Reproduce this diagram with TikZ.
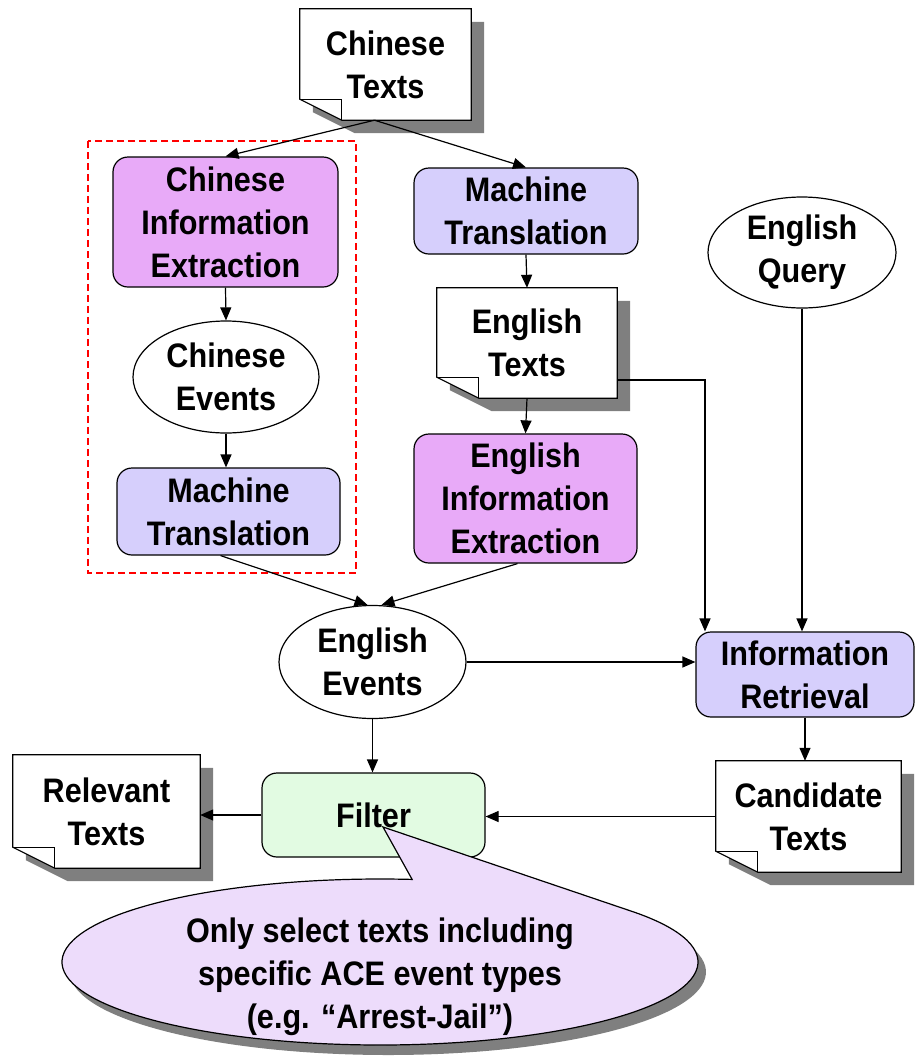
\documentclass[tikz,border=0pt]{standalone}
\usepackage{fontspec}
\setmainfont{Liberation Sans}[FakeStretch=0.9,UprightFont=*-Bold]
\usetikzlibrary{shapes.geometric,arrows.meta,backgrounds}

\definecolor{iepink}{HTML}{E8AAF8}
\definecolor{mtlav}{HTML}{D6CFFC}
\definecolor{filtgreen}{HTML}{E2FBE2}
\definecolor{notelav}{HTML}{EDDCFB}
\definecolor{shadowgray}{HTML}{7F7F7F}

% document symbol: white sheet with folded lower-left corner and a drop shadow
\newcommand\docshape[6]{%
  \node[minimum width=#4pt, minimum height=#5pt] (#1) at (#2,#3) {#6};
  \begin{scope}[on background layer]
    \fill[shadowgray] ([shift={(13,13)}]#1.north west) -- ([shift={(13,13)}]#1.north east)
      -- ([shift={(13,13)}]#1.south east) -- ([shift={(55,13)}]#1.south west)
      -- ([shift={(13,-8)}]#1.south west) -- cycle;
    \filldraw[fill=white, line width=1.2pt] (#1.north west) -- (#1.north east)
      -- (#1.south east) -- ([shift={(42,0)}]#1.south west)
      -- ([shift={(0,-21)}]#1.south west) -- cycle;
    \draw[line width=1.2pt] ([shift={(0,-21)}]#1.south west) -- ([shift={(42,-21)}]#1.south west)
      -- ([shift={(42,0)}]#1.south west);
  \end{scope}}

\begin{document}
\begin{tikzpicture}[x=1pt,y=-1pt,
  every node/.style={font=\fontsize{34}{43}\selectfont, align=center, inner sep=0pt},
  arr/.style={line width=1.2pt, -{Triangle[length=13pt,width=11pt]}},
  procbox/.style={draw, line width=1.2pt, rounded corners=15pt},
  eventell/.style={draw, ellipse, fill=white, line width=1.2pt},
  iebox/.style={procbox, fill=iepink},
  mtbox/.style={procbox, fill=mtlav},
  filtbox/.style={procbox, fill=filtgreen},
]
\useasboundingbox (0,0) rectangle (916,1058);

% documents
\docshape{ct}{385.5}{64.5}{171}{111}{Chinese\\Texts}
\docshape{et}{527}{343}{180}{110}{English\\Texts}
\docshape{rt}{106.5}{811.5}{187}{113}{Relevant\\Texts}
\docshape{cand}{808.5}{816.5}{185}{111}{Candidate\\Texts}

% Chinese-side pipeline
\node[iebox, minimum width=225pt, minimum height=130pt] (cie) at (225.5,222) {Chinese\\Information\\Extraction};
\node[eventell, minimum width=186pt, minimum height=112pt] (ce) at (226,377) {Chinese\\Events};
\node[mtbox, minimum width=223pt, minimum height=87pt] (mtl) at (228.5,511.5) {Machine\\Translation};
\draw[red, line width=1.2pt, dash pattern=on 7pt off 4pt] (88,141) rectangle (356,573);

% English-side pipeline
\node[mtbox, minimum width=224pt, minimum height=86pt] (mtr) at (526,211) {Machine\\Translation};
\node[iebox, minimum width=223pt, minimum height=129pt] (eie) at (525.5,498.5) {English\\Information\\Extraction};
\node[eventell, minimum width=188pt, minimum height=111pt] (eq) at (802,252.5) {English\\Query};
\node[eventell, minimum width=187pt, minimum height=113pt] (ee) at (372.5,662) {English\\Events};
\node[mtbox, minimum width=218pt, minimum height=85pt] (ir) at (805,674.5) {Information\\Retrieval};
\node[filtbox, minimum width=223pt, minimum height=84pt] (filter) at (373.5,815) {Filter};

% connectors
\draw[arr] ([xshift=-11pt]ct.south) -- (cie.north);
\draw[arr] ([xshift=-11pt]ct.south) -- (mtr.north);
\draw[arr] (cie.south) -- (ce.north);
\draw[arr] (ce.south) -- (ce.south |- mtl.north);
\draw[arr] ([xshift=-8pt]mtl.south) -- ([xshift=-5pt]ee.north);
\draw[arr] ([xshift=-8pt]eie.south) -- ([xshift=9pt]ee.north);
\draw[arr] (mtr.south) -- (et.north);
\draw[arr] (et.south) -- (eie.north);
\draw[arr] ([yshift=-37pt]et.east) -| ([xshift=-100pt]ir.north);
\draw[arr] (eq.south) -- (eq.south |- ir.north);
\draw[arr] (ee.east) -- (ee.east -| ir.west);
\draw[arr] (ee.south) -- (ee.south |- filter.north);
\draw[arr] (ir.south) -- (ir.south |- cand.north);
\draw[arr] (cand.west) -- (cand.west -| filter.east);
\draw[arr] (filter.west) -- (filter.west -| rt.east);

% callout attached to the filter: ellipse with a wedge pointing at it
\coordinate (tip) at (383,827);
\path (380,962) ++(-38.2:318 and 83) coordinate (wedgeR);
\path (388,972) ++(-38.2:318 and 83) coordinate (wedgeRs);
\fill[shadowgray] ([shift={(8,10)}]tip) -- (wedgeRs)
  arc[start angle=-38.2, end angle=275.8, x radius=318, y radius=83] -- cycle;
\filldraw[fill=notelav, line width=1.2pt] (tip) -- (wedgeR)
  arc[start angle=-38.2, end angle=275.8, x radius=318, y radius=83] -- cycle;
\node (note) at (380,977) {Only select texts including\\specific ACE event types\\(e.g. “Arrest-Jail”)};
\end{tikzpicture}
\end{document}
